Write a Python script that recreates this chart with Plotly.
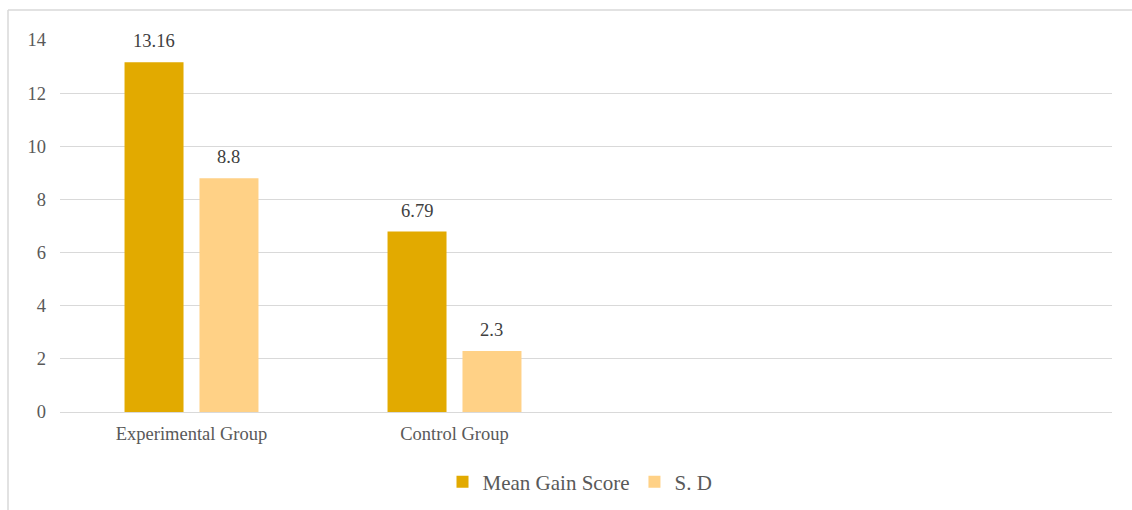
import plotly.graph_objects as go

categories = ["Experimental Group", "Control Group"]
mean_gain = [13.16, 6.79]
sd = [8.8, 2.3]
y_ticks = [0, 2, 4, 6, 8, 10, 12, 14]

font_family = "Liberation Serif, 'Times New Roman', serif"

L, R, T, B = 60, 20, 40, 98
W, H = 1132, 510
pw = W - L - R
ph = H - T - B
n_slots = 4
bargap = 0.43
bargroupgap = 0.213

fig = go.Figure()
fig.add_trace(go.Bar(
    x=categories, y=mean_gain, name="Mean Gain Score",
    marker=dict(color="#E2AA00", line=dict(width=0)),
))
fig.add_trace(go.Bar(
    x=categories, y=sd, name="S. D",
    marker=dict(color="#FFD186", line=dict(width=0)),
))

# data labels above bars
slot_px = pw / n_slots * (1 - bargap) / 2
for series, sign in ((mean_gain, -1), (sd, 1)):
    for c, v in zip(categories, series):
        fig.add_annotation(x=c, y=v, text=str(v), showarrow=False,
                           xshift=sign * slot_px / 2, yshift=21, yanchor="middle",
                           font=dict(size=18.5, color="#404040", family=font_family))

fig.update_layout(
    width=W, height=H,
    margin=dict(l=L, r=R, t=T, b=B, autoexpand=False),
    paper_bgcolor="white", plot_bgcolor="white",
    barmode="group", bargap=bargap, bargroupgap=bargroupgap,
    font=dict(family=font_family, size=18.5, color="#595959"),
    showlegend=True,
    legend=dict(orientation="h", x=(580 - L) / pw, xanchor="center",
                yref="container", y=(H - 482) / H, yanchor="middle",
                font=dict(size=21, color="#595959", family=font_family),
                itemwidth=30, traceorder="normal"),
    xaxis=dict(range=[-0.5, 3.5], showgrid=False, showline=False, zeroline=False,
               ticks="", ticklabelstandoff=8, tickfont=dict(size=18.5, color="#595959")),
    yaxis=dict(range=[0, 14], tickvals=y_ticks, showgrid=True, gridcolor="#D9D9D9",
               gridwidth=1, zeroline=True, zerolinecolor="#D9D9D9", zerolinewidth=1,
               showline=False, ticks="", ticklabelstandoff=13,
               tickfont=dict(size=18.5, color="#595959")),
)

# outer chart border (top and left visible)
x_left = (8 - L) / pw
y_top = (H - B - 10) / ph
fig.add_shape(type="line", xref="paper", yref="paper", x0=x_left, x1=1.2, y0=y_top, y1=y_top,
              line=dict(color="#D9D9D9", width=1.5))
fig.add_shape(type="line", xref="paper", yref="paper", x0=x_left, x1=x_left, y0=y_top, y1=-0.5,
              line=dict(color="#D9D9D9", width=1.5))

fig.write_html("out.html")
